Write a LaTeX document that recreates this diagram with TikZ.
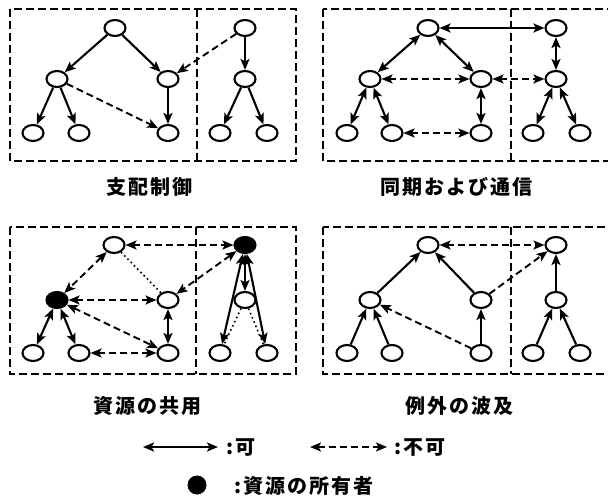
\documentclass[tikz,border=0pt]{standalone}
\usepackage{fontspec}
\newfontfamily\jp{Noto Sans CJK JP}[LetterSpace=10]
\usetikzlibrary{arrows.meta,shapes.geometric}
\begin{document}
\begin{tikzpicture}[x=1pt,y=-1pt,
  >={Stealth[length=11pt,width=9pt,inset=2.5pt]},
  nd/.style={ellipse,draw,line width=2.1pt,minimum width=21pt,minimum height=16pt,inner sep=0pt},
  own/.style={nd,fill=black},
  one/.style={line width=2.1pt,->},
  two/.style={line width=2.1pt,<->},
  done/.style={line width=1.9pt,->,dash pattern=on 7pt off 4pt},
  dtwo/.style={line width=1.9pt,<->,dash pattern=on 7pt off 4pt},
  dotl/.style={line width=1.6pt,dash pattern=on 1.6pt off 3pt},
  box/.style={line width=2.5pt,dash pattern=on 8pt off 4pt},
  lbl/.style={font=\jp\bfseries\fontsize{20pt}{22pt}\selectfont,inner sep=0pt}
]
\useasboundingbox (0,0) rectangle (608,500);

% ---------- panel 1 : 支配制御
\begin{scope}[shift={(0,0)}]
\draw[box] (10,9) rectangle (296,161) (197,9) -- (197,161);
\node[nd] (Ar) at (115,28) {};
\node[nd] (AR) at (245,28) {};
\node[nd] (Aa) at (57,79) {};
\node[nd] (Ab) at (168,79) {};
\node[nd] (Am) at (245,79) {};
\node[nd] (A1) at (33,133) {};
\node[nd] (A2) at (79,133) {};
\node[nd] (A3) at (168,133) {};
\node[nd] (A4) at (220,133) {};
\node[nd] (A5) at (267,133) {};
\draw[one] (Ar) -- (Aa);
\draw[one] (Ar) -- (Ab);
\draw[one] (Aa) -- (A1);
\draw[one] (Aa) -- (A2);
\draw[one] (Ab) -- (A3);
\draw[done] (Aa) -- (A3);
\draw[done] (AR) -- (Ab);
\draw[one] (AR) -- (Am);
\draw[one] (Am) -- (A4);
\draw[one] (Am) -- (A5);
\end{scope}
\node[lbl] (t1) at (149,187) {支配制御};

% ---------- panel 2 : 同期および通信
\begin{scope}[shift={(313,0)}]
\draw[box] (10,9) rectangle (298,161) (198,9) -- (198,161);
\node[nd] (Br) at (115,28) {};
\node[nd] (BR) at (243,28) {};
\node[nd] (Ba) at (57,79) {};
\node[nd] (Bb) at (168,79) {};
\node[nd] (Bm) at (243,79) {};
\node[nd] (B1) at (34,133) {};
\node[nd] (B2) at (79,133) {};
\node[nd] (B3) at (168,133) {};
\node[nd] (B4) at (220,133) {};
\node[nd] (B5) at (267,133) {};
\draw[two] (Br) -- (BR);
\draw[two] (Br) -- (Ba);
\draw[two] (Br) -- (Bb);
\draw[dtwo] (Ba) -- (Bb);
\draw[dtwo] (Bb) -- (Bm);
\draw[two] (BR) -- (Bm);
\draw[two] (Ba) -- (B1);
\draw[two] (Ba) -- (B2);
\draw[two] (Bb) -- (B3);
\draw[dtwo] (B2) -- (B3);
\draw[two] (Bm) -- (B4);
\draw[two] (Bm) -- (B5);
\end{scope}
\node[lbl] (t2) at (456,187) {同期および通信};

% ---------- panel 3 : 資源の共用
\begin{scope}[shift={(0,220)}]
\draw[box] (10,7) rectangle (296,154) (196,7) -- (196,154);
\node[nd] (Cr) at (114,25) {};
\node[own] (CR) at (245,25) {};
\node[own] (Ca) at (57,80) {};
\node[nd] (Cb) at (168,80) {};
\node[nd] (Cm) at (245,80) {};
\node[nd] (C1) at (33,133) {};
\node[nd] (C2) at (79,133) {};
\node[nd] (C3) at (168,133) {};
\node[nd] (C4) at (220,133) {};
\node[nd] (C5) at (267,133) {};
\draw[dtwo] (Cr) -- (CR);
\draw[dtwo] (Cr) -- (Ca);
\draw[dotl] (Cr) -- (Cb);
\draw[dtwo] (Ca) -- (Cb);
\draw[dtwo] (Ca) -- (C3);
\draw[dtwo] (CR) -- (Cb);
\draw[two] (Ca) -- (C1);
\draw[two] (Ca) -- (C2);
\draw[two] (Cb) -- (C3);
\draw[dtwo] (C2) -- (C3);
\draw[two] (CR) -- (Cm);
\draw[two] (CR) -- (C4);
\draw[two] (CR) -- (C5);
\draw[dotl] (Cm) -- (C4);
\draw[dotl] (Cm) -- (C5);
\end{scope}
\node[lbl] (t3) at (147,406) {資源の共用};

% ---------- panel 4 : 例外の波及
\begin{scope}[shift={(313,220)}]
\draw[box] (10,7) rectangle (298,154) (198,7) -- (198,154);
\node[nd] (Dr) at (115,25) {};
\node[nd] (DR) at (243,25) {};
\node[nd] (Da) at (57,80) {};
\node[nd] (Db) at (168,80) {};
\node[nd] (Dm) at (243,80) {};
\node[nd] (D1) at (34,133) {};
\node[nd] (D2) at (79,133) {};
\node[nd] (D3) at (168,133) {};
\node[nd] (D4) at (220,133) {};
\node[nd] (D5) at (267,133) {};
\draw[dtwo] (Dr) -- (DR);
\draw[one] (Da) -- (Dr);
\draw[one] (Db) -- (Dr);
\draw[one] (D1) -- (Da);
\draw[one] (D2) -- (Da);
\draw[one] (D3) -- (Db);
\draw[done] (D3) -- (Da);
\draw[done] (Db) -- (DR);
\draw[one] (Dm) -- (DR);
\draw[one] (D4) -- (Dm);
\draw[one] (D5) -- (Dm);
\end{scope}
\node[lbl] (t4) at (459,406) {例外の波及};

% ---------- legend
\coordinate (k1) at (143,447);
\coordinate (k2) at (218,447);
\draw[two] (k1) -- (k2);
\node[lbl,anchor=west] (kt1) at (226,448) {:可};
\coordinate (k3) at (310,447);
\coordinate (k4) at (387,447);
\draw[dtwo] (k3) -- (k4);
\node[lbl,anchor=west] (kt2) at (394,448) {:不可};
\node[circle,fill=black,minimum size=19pt,inner sep=0pt] (kd) at (197,485) {};
\node[lbl,anchor=west] (kt3) at (234,486) {:資源の所有者};
\end{tikzpicture}
\end{document}
